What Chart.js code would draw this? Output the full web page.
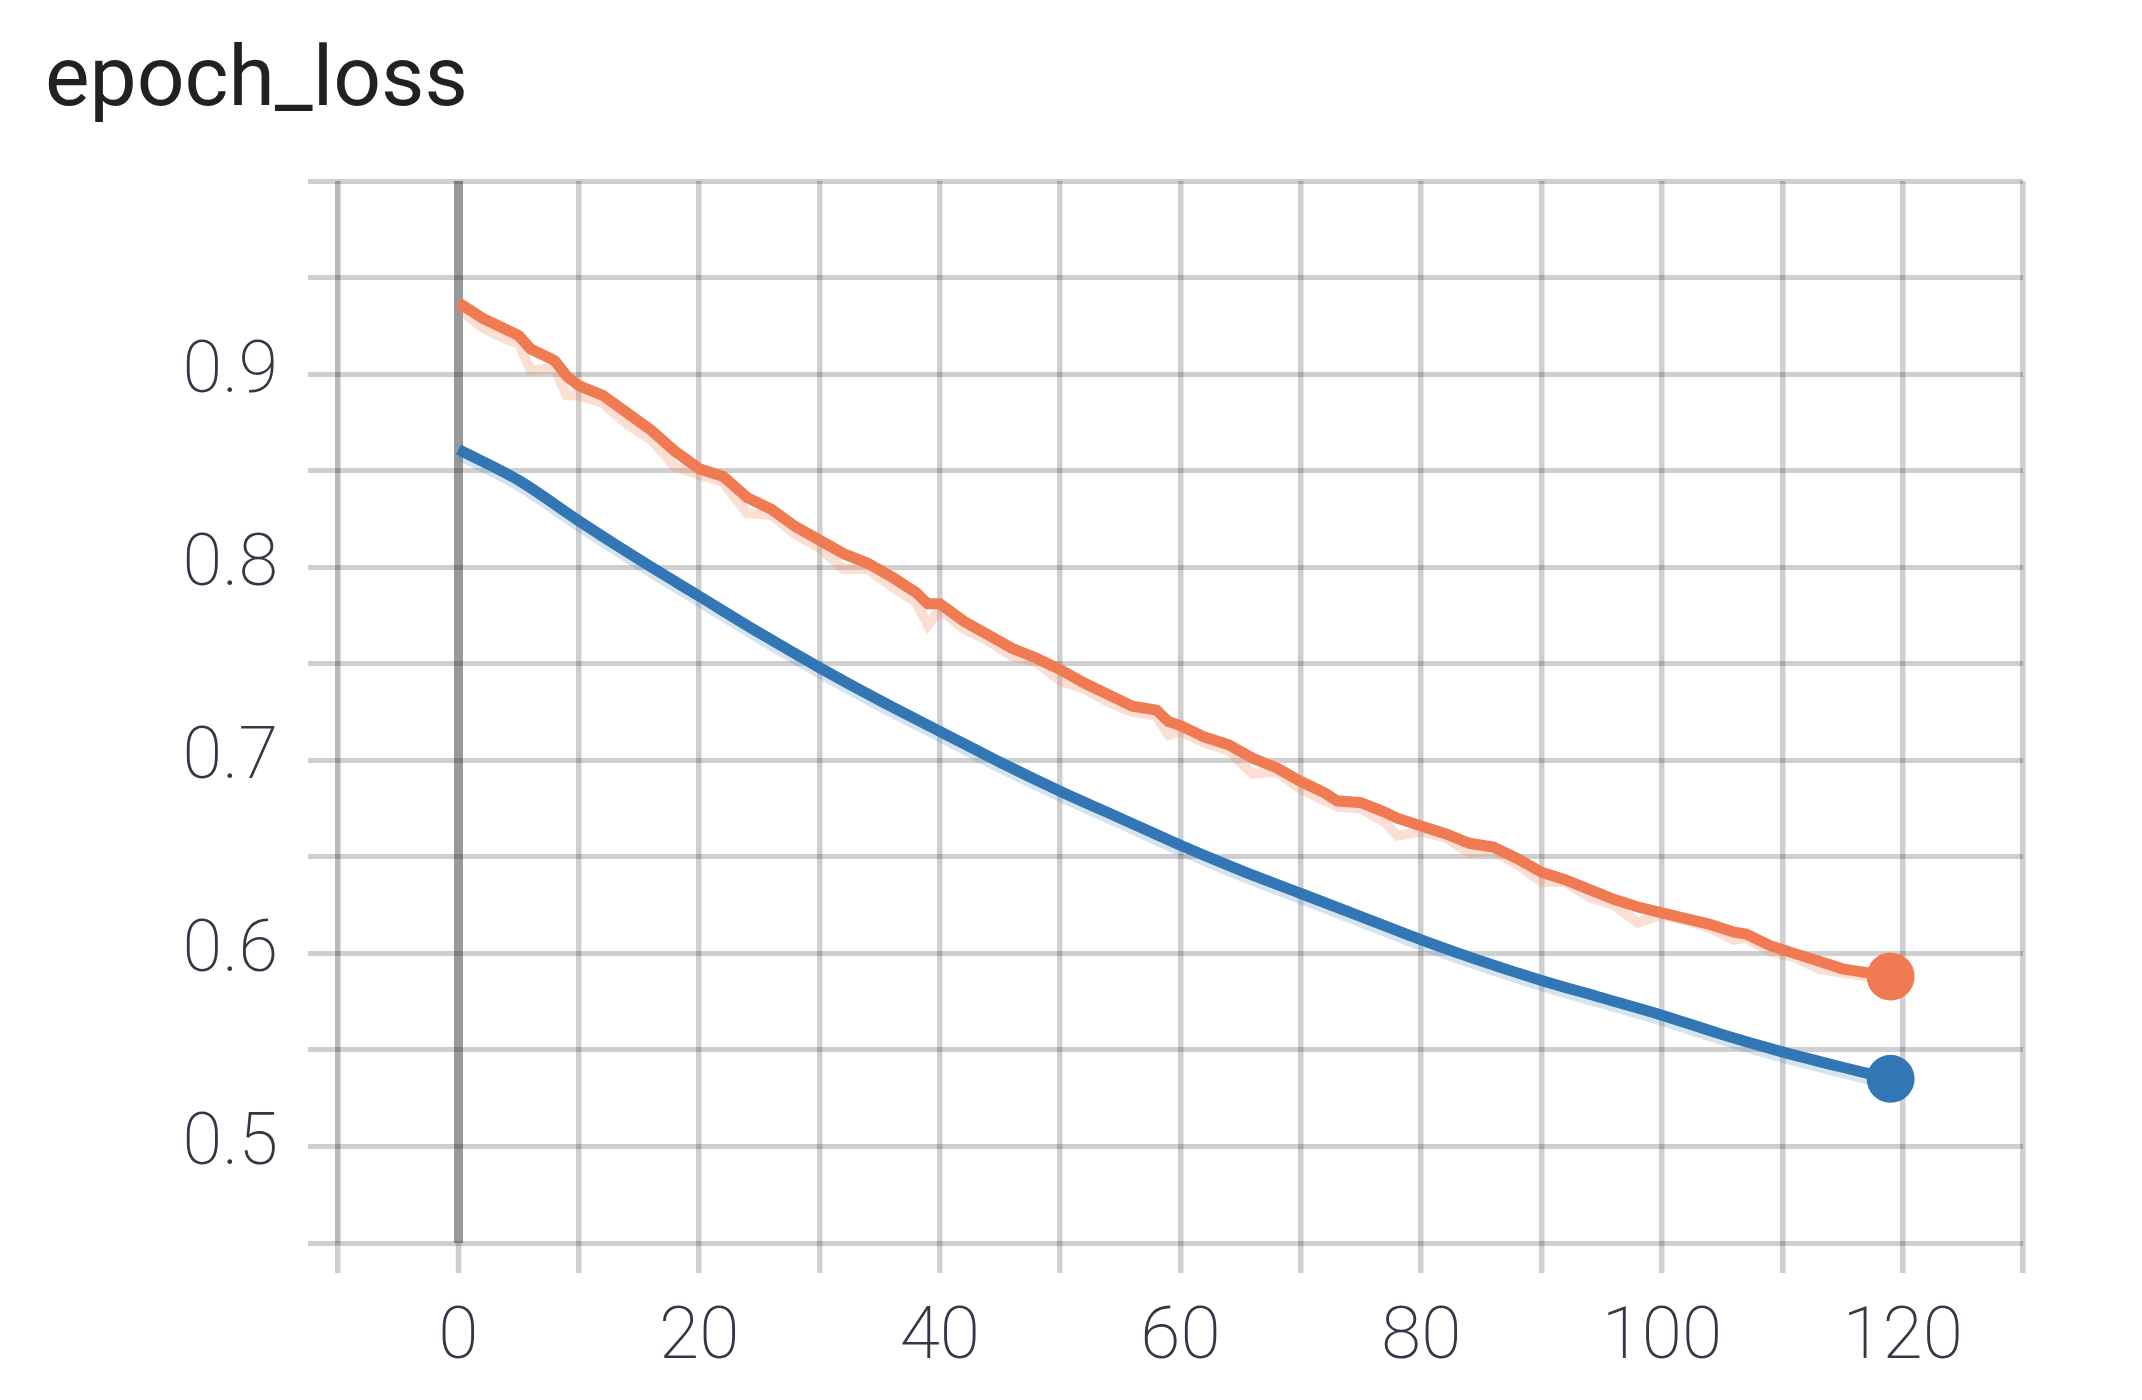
<!DOCTYPE html>
<html>
<head>
<meta charset="utf-8">
<script src="https://cdn.jsdelivr.net/npm/chart.js@4.4.1/dist/chart.umd.min.js"></script>
<style>
  html, body { margin: 0; padding: 0; background: #fff; }
  #wrap { position: relative; width: 2142px; height: 1400px; }
</style>
</head>
<body>
<div id="wrap"><canvas id="lossChart" width="2142" height="1400"></canvas></div>
<script>
// Chart data
const chartTitle = 'epoch_loss';

const orangeEpochs = [0, 2, 4, 5, 6, 8, 9, 10, 12, 14, 16, 18, 20, 22, 24, 26, 28, 30, 32, 34, 36, 38, 39, 40,
    42, 44, 46, 48, 50, 52, 54, 56, 58, 59, 60, 62, 64, 66, 68, 70, 72, 73, 75, 77, 78, 80, 82, 84, 86, 88,
    90, 92, 94, 96, 98, 100, 102, 104, 106, 107, 109, 111, 113, 115, 117, 119];
const orangeLoss = [0.937, 0.929, 0.923, 0.920, 0.913, 0.907, 0.899, 0.894, 0.889, 0.880, 0.871, 0.860, 0.851,
    0.847, 0.836, 0.830, 0.821, 0.814, 0.807, 0.802, 0.795, 0.787, 0.781, 0.781, 0.772, 0.765, 0.758, 0.753,
    0.747, 0.740, 0.734, 0.728, 0.726, 0.720, 0.718, 0.712, 0.708, 0.701, 0.696, 0.689, 0.683, 0.679, 0.678,
    0.673, 0.670, 0.666, 0.662, 0.657, 0.655, 0.649, 0.642, 0.638, 0.633, 0.628, 0.624, 0.621, 0.618, 0.615,
    0.611, 0.610, 0.604, 0.600, 0.596, 0.592, 0.590, 0.588];
const orangeRaw = [0.934, 0.924, 0.918, 0.916, 0.902, 0.903, 0.889, 0.889, 0.885, 0.874, 0.866, 0.852, 0.848,
    0.844, 0.828, 0.827, 0.817, 0.810, 0.799, 0.799, 0.790, 0.782, 0.770, 0.778, 0.768, 0.762, 0.754, 0.751,
    0.741, 0.737, 0.730, 0.725, 0.723, 0.713, 0.715, 0.709, 0.705, 0.693, 0.694, 0.685, 0.679, 0.676, 0.675,
    0.668, 0.661, 0.663, 0.660, 0.652, 0.653, 0.646, 0.637, 0.637, 0.629, 0.625, 0.616, 0.620, 0.617, 0.613,
    0.607, 0.608, 0.601, 0.598, 0.592, 0.590, 0.588, 0.587];

const blueEpochs = [0, 5, 10, 15, 20, 25, 30, 35, 40, 45, 50, 55, 60, 65, 70, 75, 80, 85, 90, 95, 100, 105, 110, 115, 119];
const blueLoss = [0.861, 0.845, 0.824, 0.804, 0.785, 0.766, 0.748, 0.731, 0.715, 0.699, 0.684, 0.670, 0.656,
    0.643, 0.631, 0.619, 0.607, 0.596, 0.586, 0.577, 0.568, 0.558, 0.549, 0.541, 0.535];
const blueRaw = [0.858, 0.842, 0.821, 0.801, 0.782, 0.763, 0.745, 0.728, 0.712, 0.696, 0.681, 0.667, 0.653,
    0.640, 0.628, 0.616, 0.604, 0.593, 0.583, 0.574, 0.565, 0.555, 0.546, 0.538, 0.532];

const xTickLabels = [0, 20, 40, 60, 80, 100, 120];
const yTickLabels = [0.5, 0.6, 0.7, 0.8, 0.9];

const ORANGE = '#f07b52';
const BLUE = '#3276b5';
const GRID = 'rgba(0, 0, 0, 0.19)';
const LABEL_COLOR = '#363646';

const toPoints = (xs, ys) => xs.map((x, i) => ({ x: x, y: ys[i] }));

// only the last point gets a dot
const endDot = (ctx) => ctx.dataIndex === ctx.dataset.data.length - 1 ? 24 : 0;

// Title drawn straight onto the canvas
const titlePlugin = {
    id: 'plainTitle',
    afterDraw(chart) {
        const c = chart.ctx;
        c.save();
        c.font = '400 84px Roboto';
        c.fillStyle = '#212121';
        c.textBaseline = 'alphabetic';
        c.textAlign = 'left';
        c.fillText(chartTitle, 45, 105);
        c.restore();
    }
};

const xGridColor = (c) => {
    if (!c.tick) return GRID;
    if (c.tick.value === 0) return 'rgba(0, 0, 0, 0.4)';
    if (c.tick.value === -10) return 'rgba(0, 0, 0, 0.27)';
    return GRID;
};

const ctx = document.getElementById('lossChart').getContext('2d');

new Chart(ctx, {
    type: 'line',
    data: {
        datasets: [
            {
                label: 'validation raw',
                data: toPoints(orangeEpochs, orangeRaw),
                borderColor: 'rgba(240, 123, 82, 0.25)',
                borderWidth: 10,
                pointRadius: 0,
                tension: 0
            },
            {
                label: 'train raw',
                data: toPoints(blueEpochs, blueRaw),
                borderColor: 'rgba(50, 118, 181, 0.2)',
                borderWidth: 10,
                pointRadius: 0,
                cubicInterpolationMode: 'monotone'
            },
            {
                label: 'validation',
                data: toPoints(orangeEpochs, orangeLoss),
                borderColor: ORANGE,
                backgroundColor: ORANGE,
                borderWidth: 11,
                pointRadius: endDot,
                pointBorderWidth: 0,
                tension: 0
            },
            {
                label: 'train',
                data: toPoints(blueEpochs, blueLoss),
                borderColor: BLUE,
                backgroundColor: BLUE,
                borderWidth: 11,
                pointRadius: endDot,
                pointBorderWidth: 0,
                cubicInterpolationMode: 'monotone'
            }
        ]
    },
    options: {
        responsive: false,
        animation: false,
        devicePixelRatio: 1,
        layout: {
            padding: { left: 0, right: 119, top: 181, bottom: 0 }
        },
        plugins: {
            legend: { display: false },
            tooltip: { enabled: false }
        },
        scales: {
            x: {
                type: 'linear',
                min: -12.5,
                max: 130,
                border: { display: false },
                afterBuildTicks: (axis) => {
                    axis.ticks = axis.ticks.filter(t => Math.abs(t.value % 10) < 1e-6);
                },
                afterFit: (axis) => { axis.height = 157; },
                grid: {
                    color: xGridColor,
                    lineWidth: (c) => c.tick && c.tick.value === 0 ? 9 : 5.5,
                    tickColor: GRID,
                    tickWidth: 5.5,
                    tickLength: 30,
                    drawTicks: true
                },
                ticks: {
                    stepSize: 10,
                    includeBounds: false,
                    autoSkip: false,
                    maxRotation: 0,
                    padding: 23,
                    color: LABEL_COLOR,
                    font: { family: 'Roboto', size: 73, weight: '200' },
                    callback: (v) => xTickLabels.includes(Math.round(v)) && Math.abs(v - Math.round(v)) < 1e-6 ? String(Math.round(v)) : ''
                }
            },
            y: {
                type: 'linear',
                min: 0.45,
                max: 1.0,
                border: { display: false },
                afterFit: (axis) => { axis.width = 308; },
                grid: {
                    color: GRID,
                    lineWidth: 5,
                    drawTicks: false
                },
                ticks: {
                    stepSize: 0.05,
                    padding: 30,
                    color: LABEL_COLOR,
                    font: { family: 'Roboto', size: 72, weight: '200' },
                    callback: (v) => {
                        const r = Math.round(v * 100) / 100;
                        return yTickLabels.some(t => Math.abs(t - r) < 1e-6) ? r.toFixed(1) : '';
                    }
                }
            }
        }
    },
    plugins: [titlePlugin]
});
</script>
</body>
</html>
